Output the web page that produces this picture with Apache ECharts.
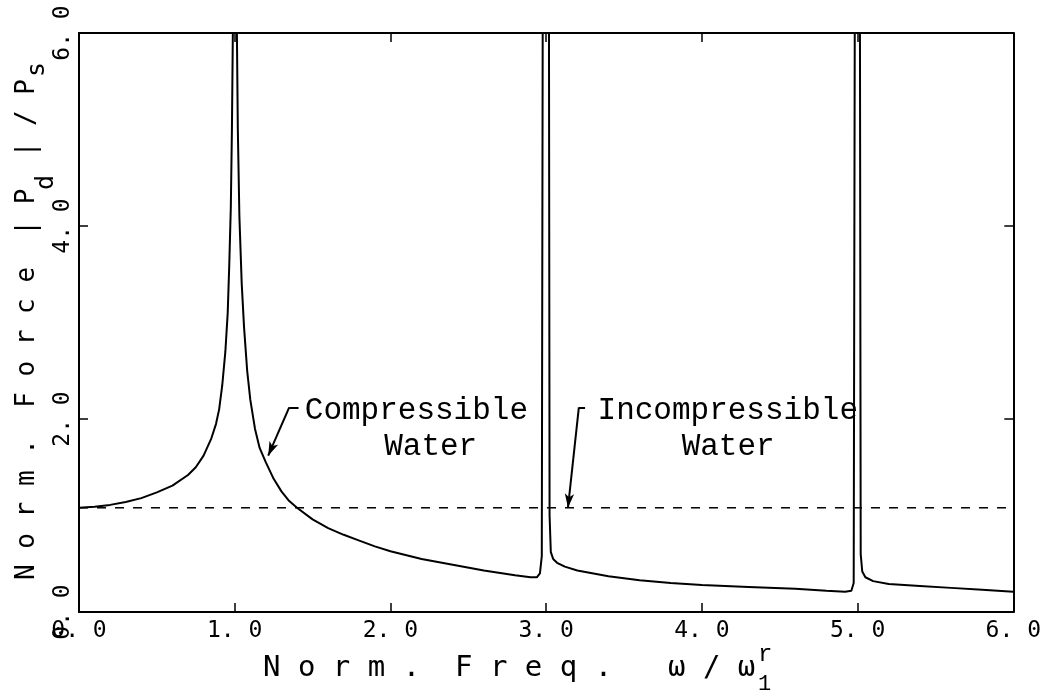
<!DOCTYPE html>
<html>
<head>
<meta charset="utf-8">
<script src="https://cdn.jsdelivr.net/npm/echarts@6/dist/echarts.min.js"></script>
<style>
html,body{margin:0;padding:0;background:#fff;}
#c{width:1044px;height:697px;}
</style>
</head>
<body>
<div id="c"></div>
<script>
// ---- data ----
var xTicks = [0, 1, 2, 3, 4, 5, 6];
var yTicks = [0, 2, 4, 6];
var compX = [0.00, 0.10, 0.20, 0.30, 0.40, 0.50, 0.60, 0.70, 0.75, 0.80, 0.85, 0.88, 0.90, 0.92, 0.94, 0.955, 0.965, 0.975, 0.982, 0.988, 1.000,
             1.014, 1.020, 1.030, 1.045, 1.060, 1.080, 1.100, 1.130, 1.160, 1.200, 1.250, 1.300, 1.350, 1.400, 1.500, 1.600, 1.700, 1.800, 1.900, 2.000,
             2.200, 2.400, 2.600, 2.800, 2.900, 2.940, 2.960, 2.972, 2.978, 3.000,
             3.018, 3.022, 3.030, 3.045, 3.070, 3.120, 3.200, 3.400, 3.600, 3.800, 4.000, 4.300, 4.600, 4.800, 4.920, 4.960, 4.975, 4.982, 5.000,
             5.015, 5.020, 5.030, 5.050, 5.100, 5.200, 5.400, 5.600, 5.800, 6.000];
var compY = [1.08, 1.09, 1.11, 1.14, 1.18, 1.24, 1.31, 1.42, 1.50, 1.62, 1.80, 1.95, 2.10, 2.35, 2.70, 3.10, 3.60, 4.20, 5.00, 6.00, 9.00,
             6.00, 5.00, 4.10, 3.40, 2.95, 2.50, 2.20, 1.90, 1.70, 1.55, 1.38, 1.25, 1.15, 1.08, 0.96, 0.87, 0.80, 0.74, 0.68, 0.63,
             0.55, 0.49, 0.43, 0.38, 0.36, 0.36, 0.40, 0.58, 6.20, 9.00,
             6.20, 1.00, 0.62, 0.55, 0.51, 0.47, 0.43, 0.37, 0.33, 0.30, 0.28, 0.26, 0.24, 0.22, 0.21, 0.22, 0.30, 6.20, 9.00,
             6.20, 0.60, 0.42, 0.36, 0.32, 0.29, 0.27, 0.25, 0.23, 0.21];
var incompX = [0, 6];
var incompY = [1.08, 1.08];
// annotation anchors (data coordinates)
var compArrow = [[1.41, 2.12], [1.35, 2.12], [1.215, 1.62]];
var incompArrow = [[3.25, 2.12], [3.21, 2.12], [3.14, 1.08]];
var compLabel = ['Compressible', 'Water'];
var incompLabel = ['Incompressible', 'Water'];
var compLabelPos = [[1.45, 2.09], [1.96, 1.71]];
var incompLabelPos = [[3.33, 2.09], [3.87, 1.71]];

var chart = echarts.init(document.getElementById('c'));
var monoFont = '"Liberation Mono", "DejaVu Sans Mono", monospace';
var plotFont = '"DejaVu Sans Mono", monospace';

function zip(a, b) { return a.map(function (v, i) { return [v, b[i]]; }); }
function tickFmt(v) { return v.toFixed(1).replace('.', '. '); }

function axisCommon() {
  return {
    axisLine: { show: true, onZero: false, lineStyle: { color: '#000', width: 2 } },
    axisTick: { show: true, inside: true, length: 9, lineStyle: { color: '#000', width: 1.5 } },
    splitLine: { show: false }
  };
}

chart.setOption({
  animation: false,
  backgroundColor: '#fff',
  grid: { left: 79, right: 29, top: 33, bottom: 85, show: false },
  xAxis: [
    Object.assign(axisCommon(), {
      type: 'value', min: 0, max: 6, interval: 1, position: 'bottom',
      axisLabel: { show: true, formatter: tickFmt, color: '#000', fontFamily: plotFont, fontSize: 23, margin: 8 }
    }),
    Object.assign(axisCommon(), {
      type: 'value', min: 0, max: 6, interval: 1, position: 'top', axisLabel: { show: false }
    })
  ],
  yAxis: [
    Object.assign(axisCommon(), {
      type: 'value', min: 0, max: 6, interval: 2, position: 'left',
      axisLabel: { show: true, formatter: tickFmt, rotate: 90, color: '#000', fontFamily: plotFont, fontSize: 23, margin: 4 }
    }),
    Object.assign(axisCommon(), {
      type: 'value', min: 0, max: 6, interval: 2, position: 'right', axisLabel: { show: false }
    })
  ],
  series: [
    {
      type: 'line', name: 'Compressible', data: zip(compX, compY), showSymbol: false, clip: true,
      lineStyle: { color: '#000', width: 2 },
      markLine: {
        silent: true, animation: false,
        lineStyle: { color: '#000', width: 2, type: 'solid' },
        label: { show: false },
        data: [
          [{ coord: compArrow[0], symbol: 'none' }, { coord: compArrow[1], symbol: 'none' }],
          [{ coord: compArrow[1], symbol: 'none' }, { coord: compArrow[2], symbol: 'arrow', symbolSize: [7, 14] }],
          [{ coord: incompArrow[0], symbol: 'none' }, { coord: incompArrow[1], symbol: 'none' }],
          [{ coord: incompArrow[1], symbol: 'none' }, { coord: incompArrow[2], symbol: 'arrow', symbolSize: [7, 14] }]
        ]
      }
    },
    {
      type: 'line', name: 'Incompressible', data: zip(incompX, incompY), showSymbol: false,
      lineStyle: { color: '#000', width: 1.5, type: [9, 9] }
    }
  ]
});

function px(p) { return chart.convertToPixel({ gridIndex: 0 }, p); }
var graphics = [];
[[compLabel, compLabelPos], [incompLabel, incompLabelPos]].forEach(function (pair) {
  pair[0].forEach(function (t, i) {
    var p = px(pair[1][i]);
    graphics.push({ type: 'text', x: p[0], y: p[1], style: { text: t, fill: '#000', font: '31px ' + monoFont, verticalAlign: 'middle', align: 'left' } });
  });
});
// axis titles
function title(t, x, y, size) {
  return { type: 'text', x: x, y: y, style: { text: t, fill: '#000', font: size + 'px ' + plotFont, verticalAlign: 'middle', align: 'left' } };
}
graphics.push(title('N o r m .', 263, 668, 29));
graphics.push(title('F r e q .', 455, 668, 29));
graphics.push(title('ω / ω', 668, 668, 29));
graphics.push({ type: 'text', x: 758, y: 655, style: { text: 'r', fill: '#000', font: '24px ' + monoFont, verticalAlign: 'middle', align: 'left' } });
graphics.push({ type: 'text', x: 758, y: 684, style: { text: '1', fill: '#000', font: '22px ' + monoFont, verticalAlign: 'middle', align: 'left' } });
graphics.push({
  type: 'group', x: 27, y: 580, rotation: Math.PI / 2,
  children: [
    { type: 'text', x: 0, y: 0, style: { text: 'N o r m .  F o r c e  | P  | / P', fill: '#000', font: '26px ' + plotFont, verticalAlign: 'middle', align: 'left' } },
    { type: 'text', x: 390, y: 19, style: { text: 'd', fill: '#000', font: '25px ' + plotFont, verticalAlign: 'middle', align: 'left' } },
    { type: 'text', x: 503, y: 10, style: { text: 's', fill: '#000', font: '25px ' + plotFont, verticalAlign: 'middle', align: 'left' } }
  ]
});
chart.setOption({ graphic: graphics });
</script>
</body>
</html>
